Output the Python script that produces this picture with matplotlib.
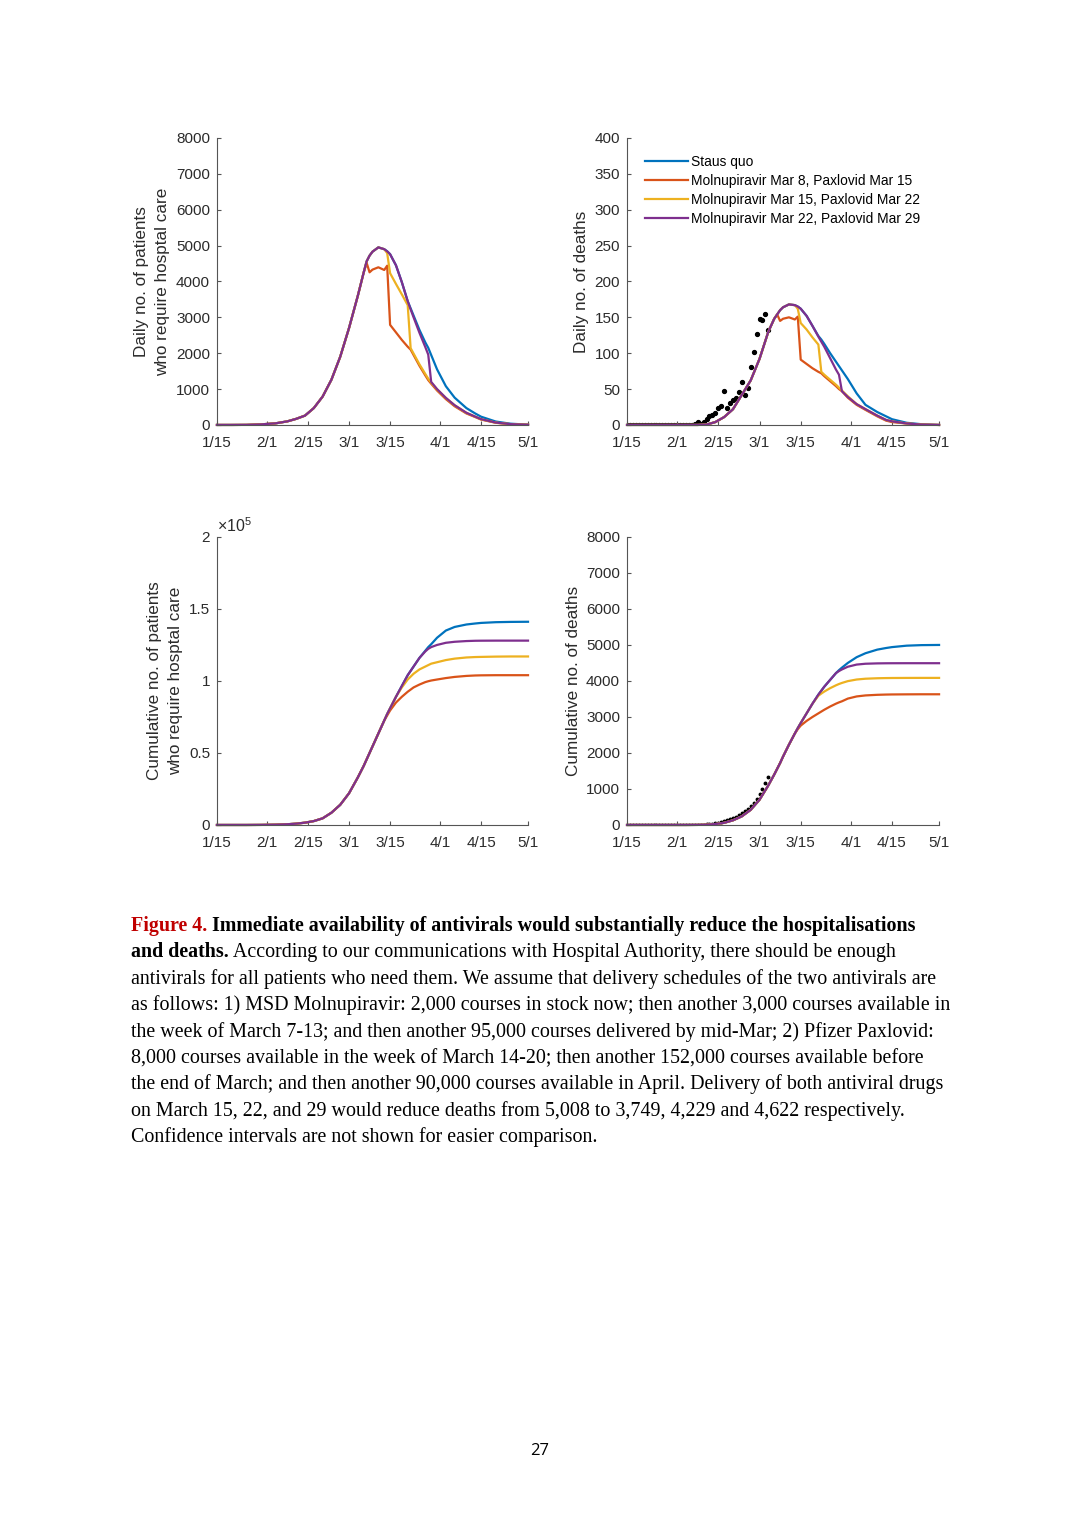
"""
Figure 4: antiviral delivery scenarios vs. status quo
(daily / cumulative hospitalisations and deaths)
"""

import matplotlib

matplotlib.use("Agg")
import matplotlib.pyplot as plt
from matplotlib.ticker import FuncFormatter

plt.rcParams["font.family"] = ["Liberation Sans", "DejaVu Sans"]
plt.rcParams["mathtext.fontset"] = "custom"
plt.rcParams["mathtext.rm"] = "Liberation Sans"

# x positions are days since 15 Jan
days = [0, 5, 10, 15, 20, 24, 27, 30, 33, 36, 39, 42, 45, 48, 50, 51, 52, 53, 55, 57,
        58, 59, 61, 63, 65, 66, 67, 69, 71, 72, 73, 75, 78, 81, 85, 88, 90, 95, 100, 106]
tick_days = [0, 17, 31, 45, 59, 76, 90, 106]
tick_labels = ["1/15", "2/1", "2/15", "3/1", "3/15", "4/1", "4/15", "5/1"]

scenario_labels = [
    "Staus quo",
    "Molnupiravir Mar 8, Paxlovid Mar 15",
    "Molnupiravir Mar 15, Paxlovid Mar 22",
    "Molnupiravir Mar 22, Paxlovid Mar 29",
]
colors = ["#0072BD", "#D95319", "#EDB120", "#7E2F8E"]

# daily no. of patients who require hospital care
daily_hosp_sq = [0, 0, 2, 15, 45, 100, 170, 260, 470, 790, 1260, 1900, 2700, 3600, 4250, 4560,
                 4720, 4830, 4950, 4900, 4840, 4760, 4450, 3980, 3450, 3250, 3050, 2650, 2300,
                 2150, 1950, 1550, 1080, 760, 470, 320, 230, 95, 35, 8]
daily_hosp_m8 = [0, 0, 2, 15, 45, 100, 170, 260, 470, 790, 1260, 1900, 2700, 3600, 4250, 4520,
                 4255, 4330, 4395, 4320, 4440, 2790, 2580, 2370, 2180, 2100, 1950, 1650, 1380,
                 1250, 1150, 960, 720, 520, 320, 220, 150, 60, 20, 5]
daily_hosp_m15 = [0, 0, 2, 15, 45, 100, 170, 260, 470, 790, 1260, 1900, 2700, 3600, 4250, 4560,
                  4720, 4830, 4950, 4900, 4790, 4230, 3930, 3640, 3340, 2140, 1990, 1690, 1420,
                  1290, 1180, 990, 750, 545, 335, 230, 160, 65, 22, 5]
daily_hosp_m22 = [0, 0, 2, 15, 45, 100, 170, 260, 470, 790, 1260, 1900, 2700, 3600, 4250, 4560,
                  4720, 4830, 4950, 4900, 4840, 4760, 4450, 3980, 3450, 3220, 3000, 2570, 2170,
                  1960, 1200, 1000, 755, 550, 340, 232, 162, 66, 22, 5]

# daily no. of deaths
daily_death_sq = [0, 0, 0, 0, 0, 0, 0.5, 4, 11, 22, 42, 62, 92, 130, 148, 154, 160, 164, 168,
                  167, 165, 162, 152, 138, 124, 119, 113, 100, 88, 82, 76, 64, 44, 28, 18, 12,
                  8, 3, 1, 0]
daily_death_m8 = [0, 0, 0, 0, 0, 0, 0.5, 4, 11, 22, 42, 62, 92, 130, 148, 154, 145, 148, 150,
                  147, 151, 91, 85, 79, 74, 72, 68, 61, 54, 50, 47, 38, 28, 21, 12, 6, 4, 2,
                  0.5, 0]
daily_death_m15 = [0, 0, 0, 0, 0, 0, 0.5, 4, 11, 22, 42, 62, 92, 130, 148, 154, 160, 164, 168,
                   167, 162, 142, 133, 122, 112, 74, 70, 63, 56, 52, 48, 40, 29, 22, 13, 7, 5,
                   2, 0.5, 0]
daily_death_m22 = [0, 0, 0, 0, 0, 0, 0.5, 4, 11, 22, 42, 62, 92, 130, 148, 154, 160, 164, 168,
                   167, 165, 162, 152, 138, 123, 116, 109, 93, 77, 70, 47, 39, 29, 22, 13, 7, 5,
                   2, 0.5, 0]

# cumulative no. of patients who require hospital care
cum_hosp_sq = [0, 0, 0, 50, 200, 500, 900, 1600, 2700, 4600, 8500, 14000, 22000, 33000, 41000,
               45500, 50000, 54500, 63500, 72500, 77000, 81000, 89000, 96500, 104000, 107000,
               110000, 116000, 121000, 123500, 125500, 130000, 135000, 137500, 139200, 139900,
               140300, 140800, 141000, 141100]
cum_hosp_m8 = [0, 0, 0, 50, 200, 500, 900, 1600, 2700, 4600, 8500, 14000, 22000, 33000, 41000,
               45500, 50000, 54500, 63500, 72500, 76000, 79500, 85000, 89000, 92500, 94000,
               95500, 97500, 99200, 99800, 100300, 101000, 102000, 102800, 103500, 103800,
               103900, 104000, 104000, 104000]
cum_hosp_m15 = [0, 0, 0, 50, 200, 500, 900, 1600, 2700, 4600, 8500, 14000, 22000, 33000, 41000,
                45500, 50000, 54500, 63500, 72500, 77000, 81000, 89000, 95500, 101000, 103000,
                105000, 108000, 110000, 111000, 112000, 113000, 114500, 115500, 116300, 116600,
                116700, 116900, 117000, 117000]
cum_hosp_m22 = [0, 0, 0, 50, 200, 500, 900, 1600, 2700, 4600, 8500, 14000, 22000, 33000, 41000,
                45500, 50000, 54500, 63500, 72500, 77000, 81000, 89000, 96500, 104000, 107000,
                110000, 116000, 120500, 122300, 123500, 125000, 126500, 127200, 127700, 127900,
                127950, 128000, 128000, 128000]

# cumulative no. of deaths
cum_death_sq = [0, 0, 0, 0, 0, 2, 8, 25, 60, 130, 240, 420, 700, 1100, 1400, 1560, 1720, 1900,
                2230, 2540, 2690, 2830, 3100, 3370, 3620, 3730, 3840, 4030, 4220, 4300, 4370,
                4500, 4660, 4770, 4870, 4915, 4940, 4980, 4995, 5000]
cum_death_m8 = [0, 0, 0, 0, 0, 2, 8, 25, 60, 130, 240, 420, 700, 1100, 1400, 1560, 1720, 1900,
                2230, 2540, 2660, 2760, 2890, 3000, 3100, 3150, 3200, 3290, 3370, 3405, 3435,
                3510, 3570, 3598, 3615, 3622, 3625, 3628, 3630, 3630]
cum_death_m15 = [0, 0, 0, 0, 0, 2, 8, 25, 60, 130, 240, 420, 700, 1100, 1400, 1560, 1720, 1900,
                 2230, 2540, 2690, 2830, 3100, 3370, 3590, 3650, 3705, 3800, 3880, 3915, 3945,
                 3995, 4040, 4062, 4075, 4080, 4082, 4084, 4085, 4085]
cum_death_m22 = [0, 0, 0, 0, 0, 2, 8, 25, 60, 130, 240, 420, 700, 1100, 1400, 1560, 1720, 1900,
                 2230, 2540, 2690, 2830, 3100, 3370, 3620, 3730, 3840, 4030, 4220, 4275, 4320,
                 4395, 4455, 4478, 4488, 4491, 4492, 4493, 4493, 4493]

# observed deaths (black dots), one per day from 15 Jan
obs_days = list(range(49))
obs_daily_death = [0] * 23 + [1, 4, 2, 4, 8, 12, 14, 17, 24, 27, 48, 23, 30, 35, 37, 46, 60, 42,
                              51, 81, 101, 127, 147, 146, 155, 133]
obs_cum_death = [0] * 23 + [1, 3, 5, 9, 15, 22, 32, 44, 60, 80, 105, 130, 160, 195, 235, 280,
                            335, 390, 445, 520, 610, 720, 850, 1000, 1170, 1340]

AXIS_GREY = "#2b2b2b"
SPINE_GREY = "#555555"


def style_axes(ax, ymax, ystep):
    """MATLAB-like look: box off, inward ticks, grey axis lines."""
    for side in ("top", "right"):
        ax.spines[side].set_visible(False)
    for side in ("left", "bottom"):
        ax.spines[side].set_color(SPINE_GREY)
        ax.spines[side].set_linewidth(0.8)
    ax.set_xlim(0, 106)
    ax.set_ylim(0, ymax)
    ax.set_xticks(tick_days)
    ax.set_xticklabels(tick_labels)
    ax.set_yticks([ystep * k for k in range(int(round(ymax / ystep)) + 1)])
    ax.tick_params(direction="in", length=3, width=0.8, color=SPINE_GREY,
                   labelcolor=AXIS_GREY, labelsize=11)
    ax.tick_params(axis="x", pad=8)
    ax.tick_params(axis="y", pad=5)


def plot_panel(ax, series, ylabel, ymax, ystep):
    for values, color, label in zip(series, colors, scenario_labels):
        ax.plot(days, values, color=color, linewidth=1.6, label=label, clip_on=False)
    style_axes(ax, ymax, ystep)
    ax.set_ylabel(ylabel, fontsize=12.3, color=AXIS_GREY, linespacing=1.5)


fig = plt.figure(figsize=(10.8, 15.28), dpi=100)

ax_tl = fig.add_axes([0.2009, 0.7219, 0.2880, 0.1878])
ax_tr = fig.add_axes([0.5806, 0.7219, 0.2889, 0.1878])
ax_bl = fig.add_axes([0.2009, 0.4601, 0.2880, 0.1885])
ax_br = fig.add_axes([0.5806, 0.4601, 0.2889, 0.1885])

plot_panel(ax_tl, [daily_hosp_sq, daily_hosp_m8, daily_hosp_m15, daily_hosp_m22],
           "Daily no. of patients\nwho require hosptal care", 8000, 1000)

ax_tr.plot(obs_days, obs_daily_death, "o", color="black", markersize=2.8, zorder=1)
plot_panel(ax_tr, [daily_death_sq, daily_death_m8, daily_death_m15, daily_death_m22],
           "Daily no. of deaths", 400, 50)
handles, labels = ax_tr.get_legend_handles_labels()
ax_tr.legend(handles[-4:], labels[-4:], loc="upper left", frameon=False, fontsize=9.9,
             handlelength=3.1, handletextpad=0.25, labelspacing=0.37,
             borderaxespad=0.0, bbox_to_anchor=(0.04, 0.96))

plot_panel(ax_bl, [cum_hosp_sq, cum_hosp_m8, cum_hosp_m15, cum_hosp_m22],
           "Cumulative no. of patients\nwho require hosptal care", 200000, 50000)
ax_bl.yaxis.set_major_formatter(FuncFormatter(lambda v, _: f"{v / 1e5:g}"))
ax_bl.text(0.0, 1.005, r"$\times10^{5}$", transform=ax_bl.transAxes, fontsize=11.5,
           color=AXIS_GREY, ha="left", va="bottom")

ax_br.plot(obs_days, obs_cum_death, "o", color="black", markersize=1.8, zorder=1)
plot_panel(ax_br, [cum_death_sq, cum_death_m8, cum_death_m15, cum_death_m22],
           "Cumulative no. of deaths", 8000, 1000)

# caption below the panels
caption_lines = [
    [("Figure 4.", "bold", "#C00000"),
     (" Immediate availability of antivirals would substantially reduce the hospitalisations",
      "bold", "black")],
    [("and deaths.", "bold", "black"),
     (" According to our communications with Hospital Authority, there should be enough",
      "normal", "black")],
    [("antivirals for all patients who need them. We assume that delivery schedules of the "
      "two antivirals are", "normal", "black")],
    [("as follows: 1) MSD Molnupiravir: 2,000 courses in stock now; then another 3,000 "
      "courses available in", "normal", "black")],
    [("the week of March 7-13; and then another 95,000 courses delivered by mid-Mar; "
      "2) Pfizer Paxlovid:", "normal", "black")],
    [("8,000 courses available in the week of March 14-20; then another 152,000 courses "
      "available before", "normal", "black")],
    [("the end of March; and then another 90,000 courses available in April. Delivery of "
      "both antiviral drugs", "normal", "black")],
    [("on March 15, 22, and 29 would reduce deaths from 5,008 to 3,749, 4,229 and 4,622 "
      "respectively.", "normal", "black")],
    [("Confidence intervals are not shown for easier comparison.", "normal", "black")],
]

renderer = fig.canvas.get_renderer()
fig_w, fig_h = fig.get_size_inches() * fig.dpi
first_baseline = 931
line_step = 26.4
for row, pieces in enumerate(caption_lines):
    x_px = 131
    y = 1 - (first_baseline + row * line_step) / fig_h
    for text, weight, color in pieces:
        t = fig.text(x_px / fig_w, y, text, fontsize=14.4, fontweight=weight, color=color,
                     family=["Liberation Serif", "DejaVu Serif"], ha="left", va="baseline")
        x_px = t.get_window_extent(renderer).x1

fig.text(540 / fig_w, 1 - 1451 / fig_h, "27", fontsize=12, ha="center", va="center",
         family=["Open Sans", "DejaVu Sans"])

plt.savefig("out.png", dpi=100)
plt.close()
